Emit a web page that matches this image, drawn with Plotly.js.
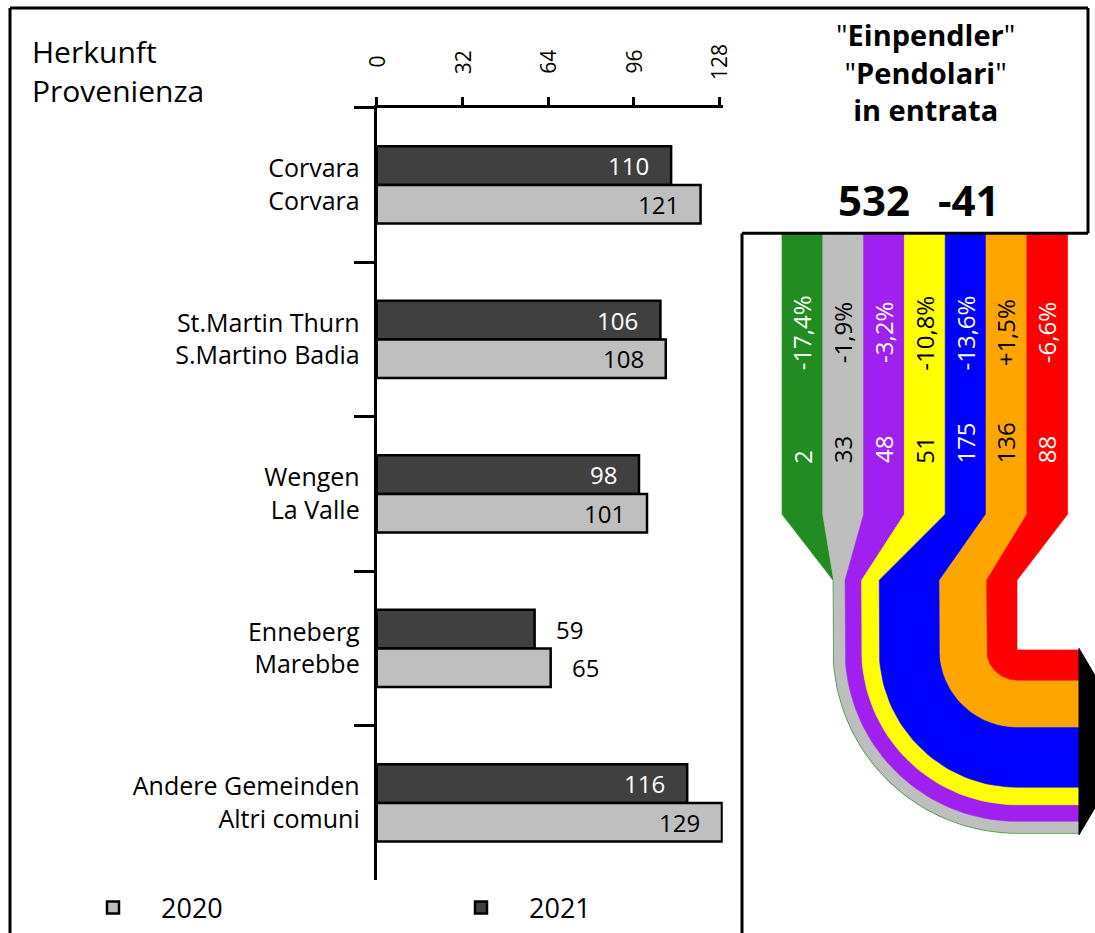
<!DOCTYPE html>
<html><head><meta charset="utf-8">
<script src="https://cdn.plot.ly/plotly-3.0.1.min.js"></script>
<style>html,body{margin:0;padding:0;background:#fff}</style>
</head><body><div id="chart" style="width:1095px;height:933px"></div>
<script>
// ---- data ----
const originDE = ["Corvara", "St.Martin Thurn", "Wengen", "Enneberg", "Andere Gemeinden"];
const originIT = ["Corvara", "S.Martino Badia", "La Valle", "Marebbe", "Altri comuni"];
const values2020 = [121, 108, 101, 65, 129];
const values2021 = [110, 106, 98, 59, 116];
const xTickValues = [0, 32, 64, 96, 128];
const flowValues = [2, 33, 48, 51, 175, 136, 88];
const flowChanges = ["-17,4%", "-1,9%", "-3,2%", "-10,8%", "-13,6%", "+1,5%", "-6,6%"];
const flowColors = ["#228b22", "#bebebe", "#a020f0", "#ffff00", "#0000ff", "#ffa500", "#ff0000"];
const flowTextColors = ["white", "black", "white", "black", "white", "black", "white"];
const titleLines = ["\"<b>Einpendler</b>\"", "\"<b>Pendolari</b>\"", "<b>in entrata</b>"];
const axisTitleLines = ["Herkunft", "Provenienza"];
const totalIn = "532";
const totalChange = "-41";

// ---- layout helpers ----
const W = 1095, H = 933;
const FONT = "Open Sans, Noto Sans, sans-serif";
const px = x => x / W;
const py = y => 1 - y / H;
const categories = originDE.map((d, i) => d + "<br>" + originIT[i]);
const NB = "\u00a0\u00a0\u00a0\u00a0";

const traces = [];
traces.push({
  type: "bar", orientation: "h", name: NB + "2021", y: categories, x: values2021,
  marker: {color: "#404040", line: {color: "black", width: 2.5}},
  hoverinfo: "skip", legendrank: 2, xaxis: "x", yaxis: "y"
});
traces.push({
  type: "bar", orientation: "h", name: NB + "2020", y: categories, x: values2020,
  marker: {color: "#bfbfbf", line: {color: "black", width: 2.5}},
  hoverinfo: "skip", legendrank: 1, xaxis: "x", yaxis: "y"
});

// ---- flow diagram geometry (pixel space of axis 2) ----
const total = flowValues.reduce((a, b) => a + b, 0);
const yTop = 234, yA = 516, yB = 582, cy = 652;
const stripX0 = 782, stripW = 40.8;
const xL = 833, bandSpan = 184, xE = 1079;
const s = bandSpan / total;
const cx = xL + bandSpan;
function arc(r, from, to) {
  const pts = [], n = 40;
  for (let k = 0; k <= n; k++) {
    const t = (from + (to - from) * k / n) * Math.PI / 180;
    pts.push([cx - r * Math.cos(t), cy + r * Math.sin(t)]);
  }
  return pts;
}
let cum = 0;
const annotations = [];
flowValues.forEach((v, i) => {
  const c0 = cum, c1 = cum + v; cum = c1;
  const r0 = s * (total - c0), r1 = s * (total - c1);
  const sl = stripX0 + i * stripW, sr = stripX0 + (i + 1) * stripW;
  let pts = [[sl, yTop], [sl, yA], [cx - r0, yB], [cx - r0, cy]];
  pts = pts.concat(arc(r0, 0, 90));
  pts.push([xE, cy + r0], [xE, cy + r1]);
  pts = pts.concat(arc(r1, 90, 0));
  pts.push([cx - r1, yB], [sr, yA], [sr, yTop]);
  traces.push({
    type: "scatter", mode: "lines", x: pts.map(p => p[0]), y: pts.map(p => p[1]),
    fill: "toself", fillcolor: flowColors[i], line: {color: flowColors[i], width: 0.6},
    hoverinfo: "skip", showlegend: false, xaxis: "x2", yaxis: "y2"
  });
  const mid = (sl + sr) / 2;
  annotations.push({xref: "x2", yref: "y2", x: mid, y: 334, text: flowChanges[i], textangle: -90,
    showarrow: false, xanchor: "center", yanchor: "middle",
    font: {family: FONT, size: 24, color: flowTextColors[i]}});
  annotations.push({xref: "x2", yref: "y2", x: mid, y: 467, text: String(v), textangle: -90,
    showarrow: false, xanchor: "center", yanchor: "bottom",
    font: {family: FONT, size: 24, color: flowTextColors[i]}});
});
// arrow head
const hw = bandSpan / 2;
traces.push({
  type: "scatter", mode: "lines",
  x: [xE, xE + 55, xE, xE], y: [cy - 1.5, cy + hw, cy + bandSpan + 1.5, cy - 1.5],
  fill: "toself", fillcolor: "black", line: {color: "black", width: 1},
  hoverinfo: "skip", showlegend: false, xaxis: "x2", yaxis: "y2"
});

// ---- bar value labels ----
const insideMin = 80;
function barLabel(v, i, off, light) {
  const inside = v >= insideMin;
  return {xref: "x", yref: "y", x: v, y: i + off, text: String(v), showarrow: false,
    xanchor: inside ? "right" : "left", yanchor: "middle", xshift: inside ? -20 : 19,
    font: {family: FONT, size: 24, color: inside && !light ? "white" : "black"}};
}
values2021.forEach((v, i) => annotations.push(barLabel(v, i, -0.125, false)));
values2020.forEach((v, i) => annotations.push(barLabel(v, i, 0.125, true)));

// ---- x tick labels (rotated, centred) ----
xTickValues.forEach(t => annotations.push({xref: "x", yref: "paper", x: t, y: py(62), text: String(t),
  textangle: -90, showarrow: false, xanchor: "center", yanchor: "middle",
  font: {family: FONT, size: 21, color: "black"}}));

// ---- titles ----
annotations.push({xref: "paper", yref: "paper", x: px(30), y: py(71), xanchor: "left", yanchor: "middle",
  align: "left", showarrow: false, text: axisTitleLines.join("<br>"),
  font: {family: FONT, size: 30, color: "black"}});
annotations.push({xref: "paper", yref: "paper", x: px(925), y: py(72), xanchor: "center", yanchor: "middle",
  align: "center", showarrow: false, text: titleLines.join("<br>"),
  font: {family: FONT, size: 29, color: "black"}});
annotations.push({xref: "paper", yref: "paper", x: px(874), y: py(200), xanchor: "center", yanchor: "middle",
  showarrow: false, text: "<b>" + totalIn + "</b>", font: {family: FONT, size: 42, color: "black"}});
annotations.push({xref: "paper", yref: "paper", x: px(969), y: py(200), xanchor: "center", yanchor: "middle",
  showarrow: false, text: "<b>" + totalChange + "</b>", font: {family: FONT, size: 42, color: "black"}});

// ---- frame lines ----
const L = (x0, y0, x1, y1) => ({type: "line", xref: "paper", yref: "paper",
  x0: px(x0), y0: py(y0), x1: px(x1), y1: py(y1), line: {color: "black", width: 3}});
const shapes = [
  L(10, 8, 1088, 8), L(10, 8, 10, 940), L(1088, 8, 1088, 234),
  L(742, 234, 1088, 234), L(742, 234, 742, 940)
];

const pxPerUnit = (719.3 - 376.7) / 128;
const xMax = 129.3;
const layout = {
  width: W, height: H, margin: {l: 0, r: 0, t: 0, b: 0},
  paper_bgcolor: "white", plot_bgcolor: "rgba(0,0,0,0)",
  font: {family: FONT, color: "black"},
  barmode: "group", bargap: 0.5, bargroupgap: 0,
  showlegend: true,
  legend: {orientation: "h", x: px(93), y: py(911), xanchor: "left", yanchor: "middle",
    entrywidth: 323, entrywidthmode: "pixels", traceorder: "normal",
    font: {family: FONT, size: 27, color: "black"}, bgcolor: "rgba(0,0,0,0)"},
  xaxis: {domain: [px(376.7), px(376.7 + pxPerUnit * xMax)], range: [0, xMax], side: "top",
    anchor: "y", showgrid: false, zeroline: false, showline: true, linewidth: 3, linecolor: "black",
    tickvals: xTickValues, ticks: "outside", ticklen: 8, tickwidth: 3, tickcolor: "black",
    showticklabels: false, fixedrange: true},
  yaxis: {domain: [py(883), py(108)], type: "category", range: [4.5, -0.5], anchor: "x",
    showgrid: false, zeroline: false, showline: true, linewidth: 3, linecolor: "black",
    ticks: "outside", tickson: "boundaries", ticklen: 20, tickwidth: 3, tickcolor: "black",
    ticklabelstandoff: 9,
    tickfont: {family: FONT, size: 25, color: "black"}, fixedrange: true},
  xaxis2: {domain: [px(742), 1], range: [742, W], visible: false, anchor: "y2", fixedrange: true},
  yaxis2: {domain: [0, py(234)], range: [H, 234], visible: false, anchor: "x2", fixedrange: true},
  annotations: annotations, shapes: shapes
};
Plotly.newPlot("chart", traces, layout, {displayModeBar: false, staticPlot: true});
</script></body></html>
